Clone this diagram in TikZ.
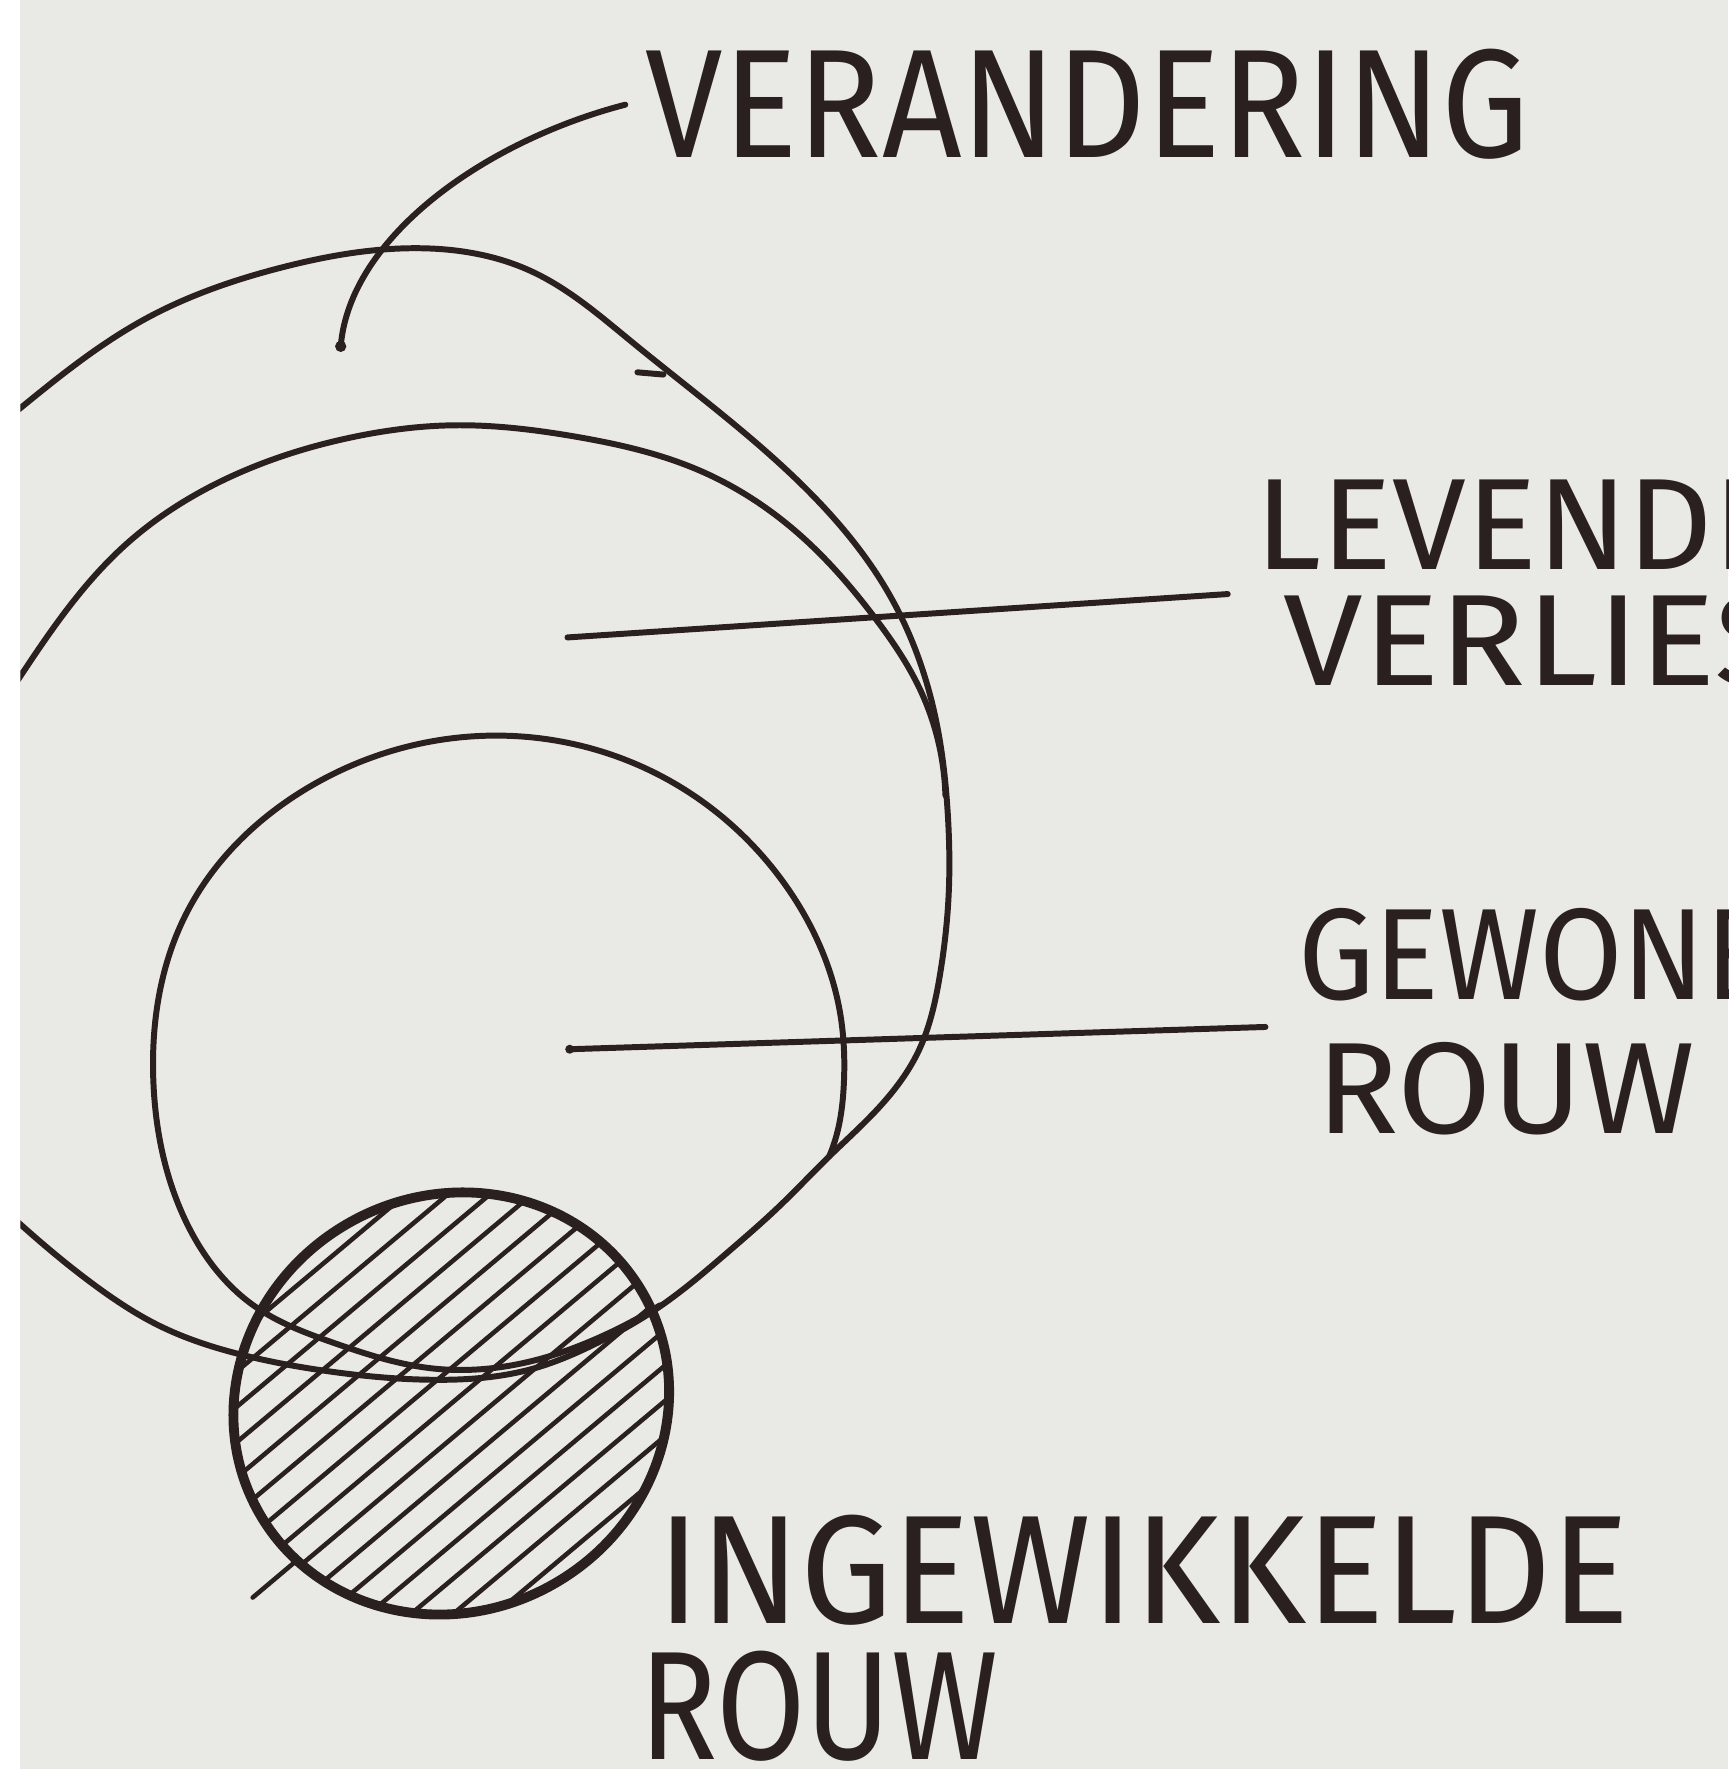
\documentclass[tikz,border=0pt]{standalone}
\usepackage{fontspec}
\setmainfont{Fira Sans}
\usepackage{tikz}
\usetikzlibrary{positioning,hobby}
\definecolor{paper}{RGB}{233,233,230}
\definecolor{ink}{RGB}{42,32,32}

\begin{document}
\begin{tikzpicture}[x=0.1128mm, y=-0.1128mm,
    bighand/.style={font=\fontsize{44}{50}\selectfont, text=ink, inner sep=0pt, xscale=0.9, anchor=base west},
    hand/.style={font=\fontsize{37}{44}\selectfont, text=ink, inner sep=0pt, xscale=1.0, anchor=base west},
    pen/.style={draw=ink, line width=1.7pt, line cap=round, line join=round},
    thickpen/.style={draw=ink, line width=2.8pt},
    hatchline/.style={draw=ink, line width=1.3pt, line cap=round}
]
\useasboundingbox (0,0) rectangle (1532,1568);
\fill[white] (0,0) rectangle (18,1568);
\fill[paper] (18,0) rectangle (1532,1568);
\clip (18,0) rectangle (1532,1568);

% labels
\node[bighand] (verand) at (572,140) {VERANDERING};
\node[hand, xscale=1.02] (levend) at (1112,505) {LEVENDE};
\node[hand, xscale=1.1] (verlies) at (1137,608) {VERLIES};
\node[hand, xscale=0.93] (gewone) at (1150,886) {GEWONE};
\node[hand, xscale=1.05] (gewrouw) at (1166,1005) {ROUW};
\node[bighand, xscale=1.05] (ingew) at (582,1439) {INGEWIKKELDE};
\node[bighand, xscale=0.93] (ingrouw) at (566,1560) {ROUW};

% outer ring
\draw[pen] plot[hobby] coordinates {(-40,410) (19,361) (130,282) (250,237) (370,220) (470,240) (560,303) (690,410) (790,530) (830,640) (840,720) (841,790) (833,865) (814,932) (776,985) (735,1025) (692,1068) (645,1110) (585,1158) (530,1190) (473,1213) (384,1223) (295,1216) (215,1201) (141,1175) (85,1140) (19,1086) (-40,1030)};
\draw[pen] (565,330) -- (588,332);
% middle ring
\draw[pen] plot[hobby] coordinates {(-40,690) (19,598) (110,484) (210,420) (310,388) (400,377) (510,387) (620,417) (710,475) (775,547) (815,610) (838,705)};
% inner ring
\draw[pen] plot[hobby] coordinates {(585,1157) (530,1186) (473,1206) (384,1213) (295,1190) (226,1158) (164,1081) (136,960) (165,810) (270,700) (440,652) (590,690) (700,790) (745,900) (748,960) (741,1008) (735,1025)};

% hatched blob
\begin{scope}
  \clip[rotate around={30:(400,1244)}] (400,1244) ellipse [x radius=196, y radius=184];
  \foreach \k in {-11,...,11}
    \draw[hatchline] ({208.5+15.4*\k},{1404.7+18.4*\k}) -- ({591.5+15.4*\k},{1083.3+18.4*\k});
\end{scope}
\draw[hatchline] (224,1416) -- (262,1384);
\draw[thickpen, rotate around={30:(400,1244)}] (400,1244) ellipse [x radius=196, y radius=184];

% leaders
\coordinate (vdot) at (302,307);
\coordinate (levin) at (503,565);
\coordinate (gewin) at (505,930);
\fill[ink] (vdot) circle (5);
\fill[ink] (gewin) circle (4);
\draw[pen] (vdot) .. controls (310,210) and (430,125) .. ([xshift=-2mm]verand.west);
\draw[pen] (levin) -- ([xshift=-5.5mm]verlies.north west);
\draw[pen] (gewin) -- ([xshift=-5mm, yshift=1.5mm]gewrouw.north west);
\end{tikzpicture}
\end{document}
